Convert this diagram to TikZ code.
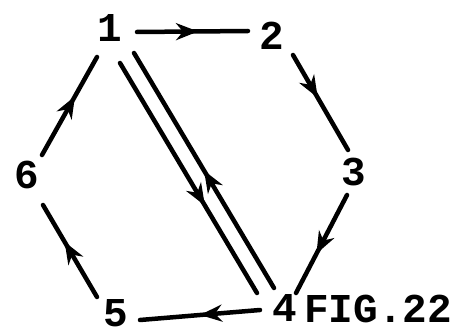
\documentclass[tikz,border=0pt]{standalone}
\usepackage{fontspec}
\setmonofont{Liberation Mono}
\usetikzlibrary{decorations.markings,arrows.meta}
\begin{document}
\begin{tikzpicture}[x=1pt,y=-1pt,
  lbl/.style={font=\ttfamily\bfseries\fontsize{41}{41}\selectfont, inner sep=0pt},
  edge/.style={line width=4.5pt, line cap=round,
    postaction={decorate},
    decoration={markings, mark=at position #1 with {\arrow{Stealth[length=22pt,width=17pt,inset=7pt]}}}},
  edge/.default=0.55]
\useasboundingbox (0,0) rectangle (454,334);
\node[lbl] (n1) at (110,28) {1};
\node[lbl] (n2) at (272,36) {2};
\node[lbl] (n3) at (354,172) {3};
\node[lbl] (n4) at (285,308) {4};
\node[lbl] (n5) at (116,313) {5};
\node[lbl] (n6) at (27,175) {6};
\node[lbl, anchor=west] (fig) at (304,309) {FIG.22};
\coordinate (a1) at (137,32); \coordinate (a2) at (248,31);
\coordinate (b1) at (293,55); \coordinate (b2) at (348,150);
\coordinate (c1) at (347,195); \coordinate (c2) at (296,293);
\coordinate (d1) at (260,310); \coordinate (d2) at (140,320);
\coordinate (e1) at (97,297); \coordinate (e2) at (43,205);
\coordinate (f1) at (42,155); \coordinate (f2) at (97,57);
\coordinate (g1) at (120,63); \coordinate (g2) at (257,293);
\coordinate (h1) at (274,288); \coordinate (h2) at (134,53);
\draw[edge=0.55] (a1) -- (a2);
\draw[edge=0.45] (b1) -- (b2);
\draw[edge=0.6] (c1) -- (c2);
\draw[edge=0.5] (d1) -- (d2);
\draw[edge=0.6] (e1) -- (e2);
\draw[edge=0.6] (f1) -- (f2);
\draw[edge=0.62] (g1) -- (g2);
\draw[edge=0.5] (h1) -- (h2);
\end{tikzpicture}
\end{document}
